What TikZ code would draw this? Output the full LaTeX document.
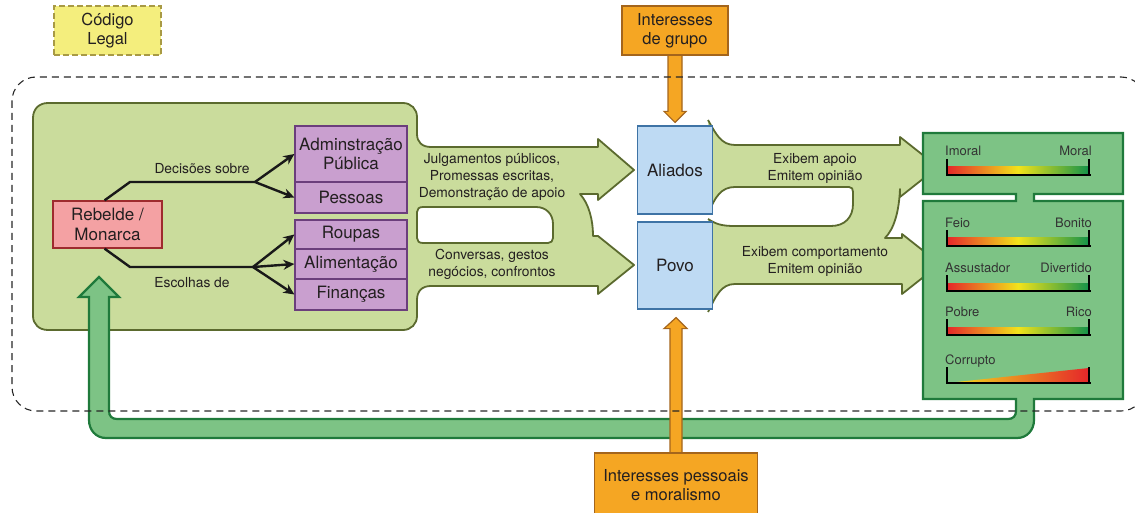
\documentclass[tikz,border=0pt]{standalone}
\usepackage{fontspec}
\setmainfont{TeX Gyre Heros}
\usetikzlibrary{arrows.meta,calc}
\pgfdeclarelayer{bg}
\pgfdeclarelayer{mid}
\pgfdeclarelayer{top}
\pgfsetlayers{bg,mid,main,top}
\definecolor{lgfill}{HTML}{CADC9C}
\definecolor{lgdraw}{HTML}{5B6A2E}
\definecolor{dgfill}{HTML}{7DC385}
\definecolor{dgdraw}{HTML}{1F7A3B}
\definecolor{bfill}{HTML}{BEDAF3}
\definecolor{bdraw}{HTML}{3E73A5}
\definecolor{pfill}{HTML}{C99FCF}
\definecolor{pdraw}{HTML}{6B3E7C}
\definecolor{rfill}{HTML}{F4A1A3}
\definecolor{rdraw}{HTML}{9E2B2E}
\definecolor{ofill}{HTML}{F5A623}
\definecolor{odraw}{HTML}{A4651C}
\definecolor{yfill}{HTML}{F4EE7D}
\definecolor{ydraw}{HTML}{A89A45}
\definecolor{txt}{HTML}{231F20}
\definecolor{barred}{HTML}{E5262A}
\definecolor{baryellow}{HTML}{F2E31B}
\definecolor{bargreen}{HTML}{13924A}

\newcommand\myscale[4]{%
  \shade[left color=barred, right color=bargreen, middle color=baryellow] (947,#2-8) rectangle (1089,#2);
  \draw[scaleline] (947,#2-16) -- (947,#2) -- (1091,#2);
  \draw[scaleline] (1089,#2-16) -- (1089,#2);
  \node[scalelabel, anchor=base west] (#1l) at (945,#2-19) {#3};
  \node[scalelabel, anchor=base east] (#1r) at (1092,#2-19) {#4};
}

\begin{document}
\begin{tikzpicture}[x=1pt,y=-1pt,
  lgreen/.style={fill=lgfill, draw=lgdraw, line width=1.8pt, line join=round},
  lgline/.style={draw=lgdraw, line width=1.8pt, line join=round},
  dgreen/.style={fill=dgfill, draw=dgdraw, line width=2.2pt, line join=miter},
  box/.style={draw, line width=1.2pt, inner sep=0pt, align=center, text=txt, font=\fontsize{17}{19.5}\selectfont},
  pinkbox/.style={box, fill=rfill, draw=rdraw},
  purplebox/.style={box, fill=pfill, draw=pdraw, minimum width=112pt},
  bluebox/.style={box, fill=bfill, draw=bdraw, minimum width=75pt},
  orangebox/.style={box, fill=ofill, draw=odraw, font=\fontsize{16.5}{19}\selectfont},
  yellowbox/.style={box, fill=yfill, draw=ydraw, dash pattern=on 6pt off 3pt, font=\fontsize{16.5}{19}\selectfont},
  orangearrow/.style={fill=ofill, draw=odraw, line width=1.2pt, line join=miter},
  tree/.style={line width=2.4pt, draw=black!90, line join=round},
  treearrow/.style={tree, -{Stealth[length=11pt,width=10pt]}},
  arrowtext/.style={align=center, text=txt, font=\fontsize{13.8}{17}\selectfont, inner sep=0pt},
  scalelabel/.style={text=black!80, font=\fontsize{13}{15}\selectfont, inner sep=0pt},
  scaleline/.style={line width=2pt, draw=black},
  outerframe/.style={draw=black!85, line width=1.1pt, dash pattern=on 7pt off 5pt, rounded corners=24pt}
]
\useasboundingbox (0,0) rectangle (1135,513);

\begin{pgfonlayer}{bg}
% left panel with outgoing arrows
\filldraw[lgreen] (33,118) .. controls (33,109) and (39,103) .. (48,103) -- (403,103)
  .. controls (411,103) and (417,109) .. (417,117) -- (417,134)
  .. controls (417,142) and (422,147) .. (431,147) -- (598,147) -- (598,139) -- (634,170)
  -- (598,200) -- (598,194) -- (580,194) .. controls (589,204) and (593,220) .. (593,236)
  -- (598,236) -- (634,265) -- (598,294) -- (598,286) -- (431,286)
  .. controls (422,286) and (417,291) .. (417,300) -- (417,316)
  .. controls (417,324) and (411,330) .. (403,330) -- (48,330)
  .. controls (39,330) and (33,324) .. (33,316) -- cycle;
\filldraw[lgreen, fill=white] (423,207) -- (536,207) .. controls (546,207) and (553,214) .. (553,224)
  -- (553,238) .. controls (553,241) and (551,243) .. (548,243) -- (423,243)
  .. controls (419,243) and (417,241) .. (417,238) -- (417,212)
  .. controls (417,209) and (419,207) .. (423,207) -- cycle;
% right arrows
\fill[lgfill] (708,120) .. controls (716,134) and (721,145) .. (735,145) -- (900,145) -- (900,137)
  -- (938,167) -- (900,197) -- (900,189) .. controls (899,212) and (894,229) .. (885,238)
  -- (902,238) -- (902,234) -- (940,264) -- (902,294) -- (902,284) -- (735,284)
  .. controls (721,284) and (716,296) .. (708,312) -- cycle;
\draw[lgline] (708,120) .. controls (716,134) and (721,145) .. (735,145) -- (900,145) -- (900,137)
  -- (938,167) -- (900,197) -- (900,189) .. controls (899,212) and (894,229) .. (885,238)
  -- (902,238) -- (902,234) -- (940,264) -- (902,294) -- (902,284) -- (735,284)
  .. controls (721,284) and (716,296) .. (708,312);
\fill[white] (708,214) .. controls (715,197) and (721,187) .. (735,187) -- (849,187)
  .. controls (852,187) and (853,189) .. (853,192) -- (853,204)
  .. controls (853,217) and (845,226) .. (831,226) -- (735,226)
  .. controls (721,226) and (716,224) .. (708,219) -- cycle;
\draw[lgline] (708,214) .. controls (715,197) and (721,187) .. (735,187) -- (849,187)
  .. controls (852,187) and (853,189) .. (853,192) -- (853,204)
  .. controls (853,217) and (845,226) .. (831,226) -- (735,226)
  .. controls (721,226) and (716,224) .. (708,219);
% evaluation panels and return arrow
\filldraw[dgreen] (923,133) -- (1123,133) -- (1123,194) -- (1034,194) -- (1034,201) -- (1123,201)
  -- (1123,399) -- (1034,399) -- (1034,420) .. controls (1034,430) and (1027,438) .. (1017,438)
  -- (106,438) .. controls (96,438) and (89,430) .. (89,420) -- (89,297) -- (79,297) -- (99,277)
  -- (119,297) -- (109,297) -- (109,411) .. controls (109,416) and (112,419) .. (117,419)
  -- (1008,419) .. controls (1013,419) and (1016,416) .. (1016,411) -- (1016,399) -- (923,399)
  -- (923,201) -- (1016,201) -- (1016,194) -- (923,194) -- cycle;
\end{pgfonlayer}

% nodes
\node[pinkbox, minimum width=109pt, minimum height=47pt] (rebelde) at (107.5,224.5) {Rebelde /\\Monarca};
\node[purplebox, minimum height=56pt] (adm) at (351,154) {Adminstração\\Pública};
\node[purplebox, minimum height=31pt] (pes) at (351,197.5) {Pessoas};
\node[purplebox, minimum height=29pt] (rou) at (351,234.5) {Roupas};
\node[purplebox, minimum height=30pt] (alim) at (351,264) {Alimentação};
\node[purplebox, minimum height=31pt] (fin) at (351,294.5) {Finanças};
\node[bluebox, minimum height=88pt] (aliados) at (675,170) {Aliados};
\node[bluebox, minimum height=87pt] (povo) at (675,265.5) {Povo};
\node[yellowbox, minimum width=107pt, minimum height=49pt] (codigo) at (107.5,30.5) {Código\\Legal};
\node[orangebox, minimum width=106pt, minimum height=49pt] (grupo) at (675,30.5) {Interesses\\de grupo};
\node[orangebox, minimum width=163pt, minimum height=64pt] (pessoais) at (676,485) {Interesses pessoais\\e moralismo};

% orange arrows
\begin{pgfonlayer}{mid}
\filldraw[orangearrow] ($(grupo.south)+(-7,-1)$) -- ($(aliados.north)+(-7,-14)$) -- ($(aliados.north)+(-11,-14)$)
  -- ($(aliados.north)+(0,-3)$) -- ($(aliados.north)+(11,-14)$) -- ($(aliados.north)+(7,-14)$)
  -- ($(grupo.south)+(7,-1)$) -- cycle;
\filldraw[orangearrow] ($(pessoais.north)+(-6,1)$) -- ($(povo.south)+(-5,19)$) -- ($(povo.south)+(-11,19)$)
  -- ($(povo.south)+(1,8)$) -- ($(povo.south)+(12,19)$) -- ($(povo.south)+(7,19)$)
  -- ($(pessoais.north)+(6,1)$) -- cycle;
\end{pgfonlayer}

% decision tree
\coordinate (d1) at (130,182);
\coordinate (d2) at (255,182);
\coordinate (e1) at (130,267);
\coordinate (e2) at (253,267);
\draw[tree] ([xshift=-3pt]rebelde.north) -- (d1) -- (d2);
\draw[treearrow] (d2) -- (adm.west);
\draw[treearrow] (d2) -- (pes.west);
\draw[tree] ([xshift=-3pt]rebelde.south) -- (e1) -- (e2);
\draw[treearrow] (e2) -- (rou.west);
\draw[treearrow] (e2) -- (alim.west);
\draw[treearrow] (e2) -- (fin.west);

% texts
\node[arrowtext] (t5) at (202,169) {Decisões sobre};
\node[arrowtext] (t6) at (192,283) {Escolhas de};
\node[arrowtext] (t1) at (492,177) {Julgamentos públicos,\\Promessas escritas,\\Demonstração de apoio};
\node[arrowtext] (t2) at (492,264) {Conversas, gestos\\negócios, confrontos};
\node[arrowtext] (t3) at (815,168.5) {Exibem apoio\\Emitem opinião};
\node[arrowtext] (t4) at (815,261.5) {Exibem comportamento\\Emitem opinião};

% scales
\myscale{s1}{175}{Imoral}{Moral}
\myscale{s2}{246}{Feio}{Bonito}
\myscale{s3}{291}{Assustador}{Divertido}
\myscale{s4}{335}{Pobre}{Rico}
\shade[left color=baryellow, right color=barred] (947,383) -- (1089,368) -- (1089,383) -- cycle;
\draw[scaleline] (947,367) -- (947,383) -- (1091,383);
\draw[scaleline] (1089,367) -- (1089,383);
\node[scalelabel, anchor=base west] (s5l) at (945,364) {Corrupto};

\begin{pgfonlayer}{top}
\draw[outerframe] (12,77) rectangle (1145,411);
\end{pgfonlayer}
\end{tikzpicture}
\end{document}
